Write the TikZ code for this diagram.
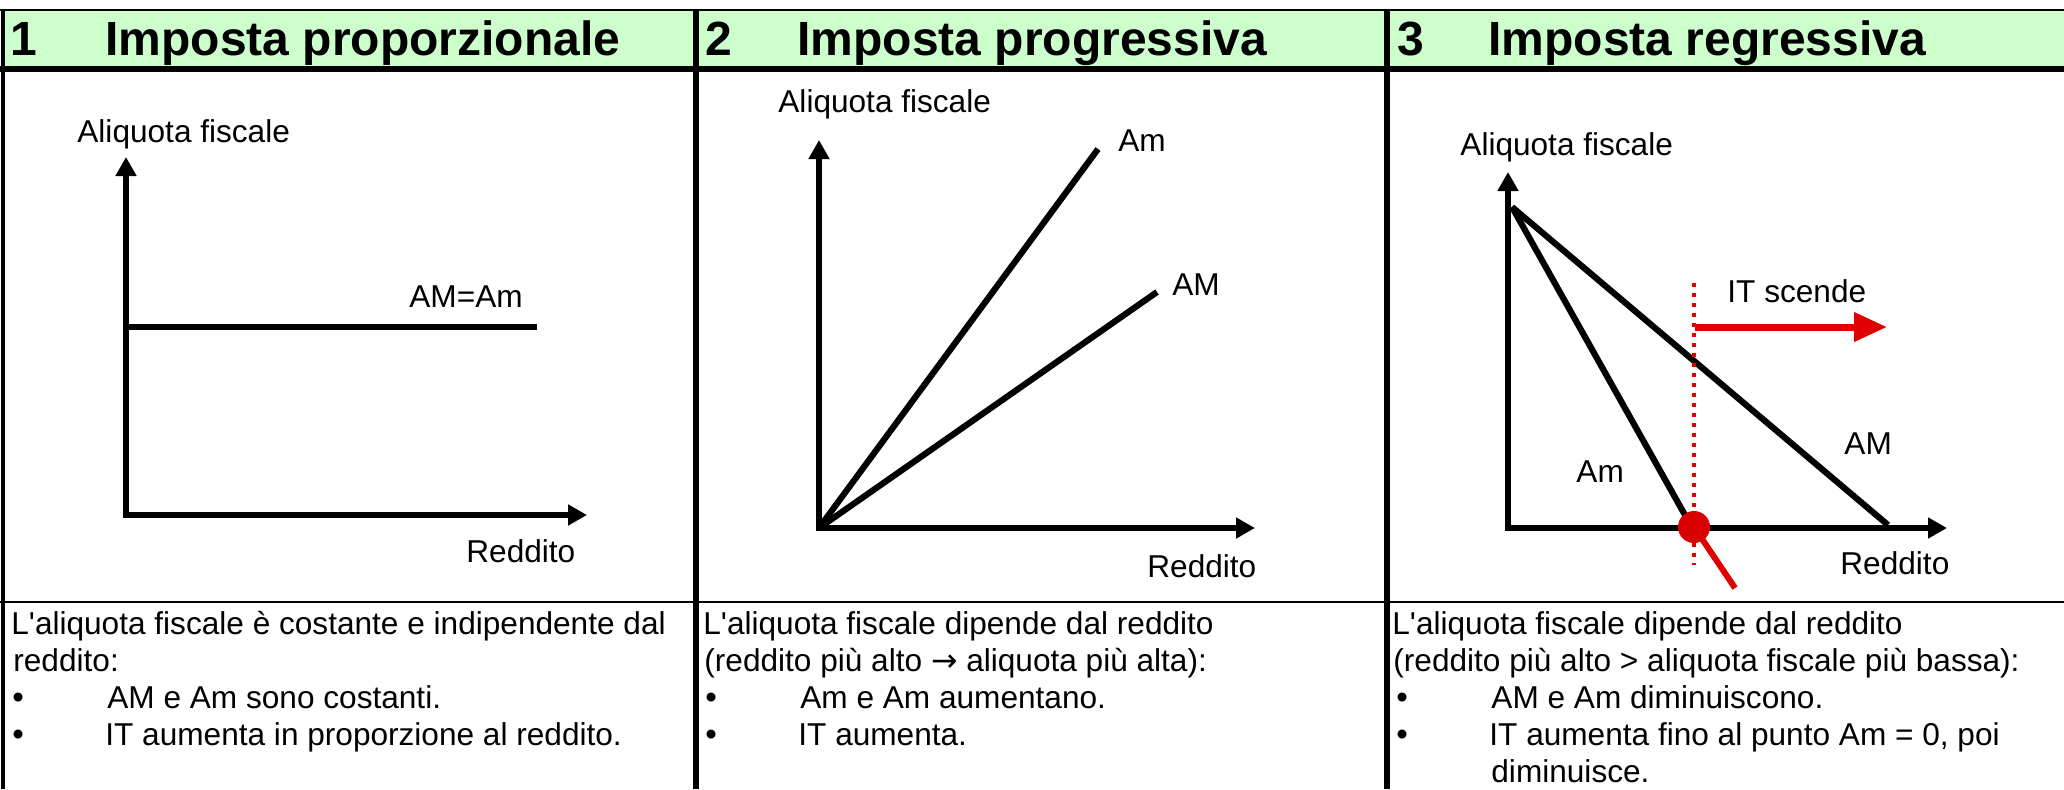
\documentclass[tikz,border=0pt]{standalone}
\usepackage{fontspec}
\newfontfamily\arial{Liberation Sans}
\newfontfamily\dejavu{DejaVu Sans}
\usetikzlibrary{arrows.meta}
\definecolor{hdrgreen}{RGB}{204,255,204}
\definecolor{myred}{RGB}{224,0,0}
\definecolor{dotred}{RGB}{216,0,0}
\newcommand{\bulitem}[1]{\rlap{\fontsize{16.5}{16.5}\selectfont •}\hspace{47.5pt}#1}
\begin{document}
\begin{tikzpicture}[x=0.5pt,y=-0.5pt,
  lbl/.style={anchor=base west,inner sep=0pt,font=\arial\fontsize{15.8}{19}\selectfont},
  hdr/.style={anchor=base west,inner sep=0pt,font=\arial\bfseries\fontsize{24}{28}\selectfont},
  axis/.style={line width=2.6pt,line join=miter,
    {Triangle[length=9.5pt,width=10pt]}-{Triangle[length=9.5pt,width=10pt]}},
  curve/.style={line width=3.1pt},
  redline/.style={myred,line width=3pt},
  reddots/.style={myred,line width=1.8pt,dash pattern=on 2.2pt off 2.8pt},
  redarrow/.style={myred,line width=3.5pt,-{Triangle[length=16.5pt,width=14pt]}}]
% background / bounding box
\fill[white] (0,0) rectangle (2064,789);
\useasboundingbox (0,0) rectangle (2064,789);
% table
\fill[hdrgreen] (3,11) rectangle (2064,67);
\draw[line width=1.2pt] (0,10) -- (2064,10);
\draw[line width=2.6pt] (0,69) -- (2064,69);
\draw[line width=0.9pt] (0,602) -- (2064,602);
\draw[line width=2pt] (2.5,10) -- (2.5,789);
\draw[line width=3pt] (695.5,10) -- (695.5,789);
\draw[line width=3pt] (1386.5,10) -- (1386.5,789);
% headers
\node[hdr] (h1n) at (10,55) {1};
\node[hdr] (h1t) at (105,55) {Imposta proporzionale};
\node[hdr] (h2n) at (705,55) {2};
\node[hdr] (h2t) at (797,55) {Imposta progressiva};
\node[hdr] (h3n) at (1397,55) {3};
\node[hdr] (h3t) at (1488,55) {Imposta regressiva};
% ---- panel 1
\coordinate (p1y) at (126,157);
\coordinate (p1o) at (126,515);
\coordinate (p1x) at (587,515);
\coordinate (p1a) at (126,327);
\coordinate (p1b) at (537,327);
\draw[axis] (p1y) -- (p1o) -- (p1x);
\draw[curve] (p1a) -- (p1b);
\node[lbl] (l1y) at (77,142) {Aliquota fiscale};
\node[lbl] (l1c) at (409,307) {AM=Am};
\node[lbl] (l1x) at (466,562) {Reddito};
% ---- panel 2
\coordinate (p2y) at (819,140);
\coordinate (p2o) at (819,528);
\coordinate (p2x) at (1255,528);
\coordinate (p2m) at (1098,149);
\coordinate (p2M) at (1157,292);
\draw[axis] (p2y) -- (p2o) -- (p2x);
\draw[curve] (p2o) -- (p2m);
\draw[curve] (p2o) -- (p2M);
\node[lbl] (l2y) at (778,112) {Aliquota fiscale};
\node[lbl] (l2m) at (1118,151) {Am};
\node[lbl] (l2M) at (1172,295) {AM};
\node[lbl] (l2x) at (1147,577) {Reddito};
% ---- panel 3
\coordinate (p3y) at (1508,172);
\coordinate (p3o) at (1508,528);
\coordinate (p3x) at (1947,528);
\coordinate (p3s) at (1512,207);
\coordinate (p3m) at (1690,524);
\coordinate (p3M) at (1888,525);
\coordinate (p3d) at (1694,527);
\coordinate (p3r) at (1735,588);
\coordinate (p3t) at (1694,283);
\coordinate (p3b) at (1694,565);
\coordinate (p3a) at (1695,327);
\coordinate (p3e) at (1887,327);
\draw[axis] (p3y) -- (p3o) -- (p3x);
\draw[curve] (p3s) -- (p3m);
\draw[curve] (p3s) -- (p3M);
\draw[reddots] (p3t) -- (p3b);
\draw[redarrow] (p3a) -- (p3e);
\draw[redline] (p3d) -- (p3r);
\fill[dotred] (p3d) circle[radius=8pt];
\node[lbl] (l3y) at (1460,155) {Aliquota fiscale};
\node[lbl] (l3i) at (1727,302) {IT scende};
\node[lbl] (l3M) at (1844,454) {AM};
\node[lbl] (l3m) at (1576,482) {Am};
\node[lbl] (l3x) at (1840,574) {Reddito};
% ---- text section panel 1
\node[lbl] (t1a) at (11,634) {L'aliquota fiscale è costante e indipendente dal};
\node[lbl] (t1b) at (13,671) {reddito:};
\node[lbl] (t1c) at (12,708) {\bulitem{AM e Am sono costanti.}};
\node[lbl] (t1d) at (12,745) {\bulitem{\hspace{-1pt}IT aumenta in proporzione al reddito.}};
% ---- text section panel 2
\node[lbl] (t2a) at (703,634) {L'aliquota fiscale dipende dal reddito};
\node[lbl] (t2b) at (704,671) {(reddito più alto {\dejavu →} aliquota più alta):};
\node[lbl] (t2c) at (705,708) {\bulitem{Am e Am aumentano.}};
\node[lbl] (t2d) at (705,745) {\bulitem{\hspace{-1pt}IT aumenta.}};
% ---- text section panel 3
\node[lbl] (t3a) at (1392,634) {L'aliquota fiscale dipende dal reddito};
\node[lbl] (t3b) at (1393,671) {(reddito più alto > aliquota fiscale più bassa):};
\node[lbl] (t3c) at (1396,708) {\bulitem{AM e Am diminuiscono.}};
\node[lbl] (t3d) at (1396,745) {\bulitem{\hspace{-1pt}IT aumenta fino al punto Am = 0, poi}};
\node[lbl] (t3e) at (1491,782) {diminuisce.};
\end{tikzpicture}
\end{document}
